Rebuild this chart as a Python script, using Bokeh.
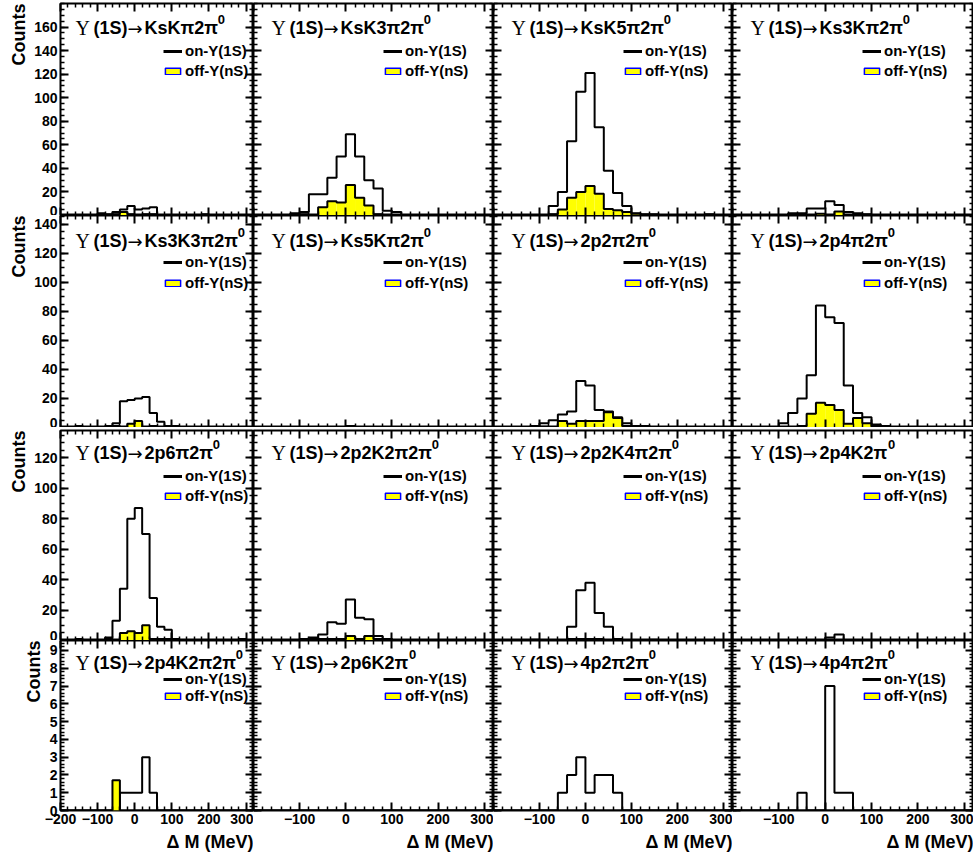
import math
from bokeh.plotting import figure
from bokeh.models import Range1d, LinearAxis, FixedTicker, Label, Legend, LegendItem, Title
from bokeh.layouts import column, row
from bokeh.embed import file_html
from bokeh.resources import INLINE

# ---------------- data (20 MeV bins from -200 to 320 MeV) ----------------
BIN_EDGES = [-200, -180, -160, -140, -120, -100, -80, -60, -40, -20, 0, 20, 40,
             60, 80, 100, 120, 140, 160, 180, 200, 220, 240, 260, 280, 300, 320]

# decay-mode part of each panel title ("Υ(1S)→" + mode + superscript 0)
MODES = [
    "KsKπ2π", "KsK3π2π", "KsK5π2π", "Ks3Kπ2π",
    "Ks3K3π2π", "Ks5Kπ2π", "2p2π2π", "2p4π2π",
    "2p6π2π", "2p2K2π2π", "2p2K4π2π", "2p4K2π",
    "2p4K2π2π", "2p6K2π", "4p2π2π", "4p4π2π",
]
LEGEND_ON = "on-Υ(1S)"
LEGEND_OFF = "off-Υ(nS)"
X_TITLE = "Δ M (MeV)"
Y_TITLE = "Counts"

#                     -200 -180 -160 -140 -120 -100 -80 -60 -40 -20  0  20  40  60  80 100 120 140 160 180 200 220 240 260 280 300
on_KsKpi2pi0      = [0, 0, 0, 0, 0, 2, 1, 3, 5, 8, 5, 6, 7, 0, 0, 0, 0, 0, 0, 0, 0, 0, 0, 0, 0, 0]
off_KsKpi2pi0     = [0, 0, 0, 0, 0, 0, 0, 1, 3, 1, 0, 1, 1, 0, 0, 0, 0, 0, 0, 1, 0, 0, 0, 0, 0, 0]
on_KsK3pi2pi0     = [0, 0, 0, 0, 2, 3, 18, 18, 32, 50, 69, 50, 30, 23, 4, 3, 0, 0, 0, 0, 0, 0, 0, 0, 0, 0]
off_KsK3pi2pi0    = [0, 0, 0, 0, 0, 1, 0, 7, 12, 11, 26, 15, 8.5, 1, 0, 0, 0, 0, 0, 0, 0, 0, 0, 0, 0, 0]
on_KsK5pi2pi0     = [0, 0, 0, 0, 0, 0, 8, 20, 63, 105, 121, 75, 38, 19, 8, 2, 1, 1, 0, 0, 0, 0, 0, 1, 0, 0]
off_KsK5pi2pi0    = [0, 0, 0, 0, 0, 0, 1, 5, 15, 20, 25, 18.5, 5.5, 4.5, 3, 1.5, 0, 0, 0, 0, 0, 0, 0, 0, 0, 0]
on_Ks3Kpi2pi0     = [0, 0, 0, 0, 0, 0, 2, 2, 6, 6, 12, 9, 3, 2, 1, 0, 0, 0, 0, 0, 0, 0, 0, 0, 0, 0]
off_Ks3Kpi2pi0    = [0, 0, 0, 0, 0, 0, 0, 0.5, 0.5, 1.5, 0.5, 3.5, 0.5, 0, 0, 0, 0, 0, 0, 0, 0, 0, 0, 0, 0, 0]
on_Ks3K3pi2pi0    = [0, 0, 1, 0, 0, 0, 1, 3, 18, 19, 20, 21, 10, 4, 1, 1, 0, 0, 0, 0, 0, 0, 0, 0, 0, 0]
off_Ks3K3pi2pi0   = [0, 0, 0, 0, 0, 0, 0, 1, 0, 2.5, 4.5, 0, 1, 0, 0, 1, 0, 0, 0, 0, 0, 0, 0, 0, 0, 0]
on_Ks5Kpi2pi0     = [0, 0, 0, 0, 0, 0, 0, 0, 0, 0, 1, 0, 0, 0, 0, 0, 0, 0, 0, 0, 0, 0, 0, 0, 0, 0]
off_Ks5Kpi2pi0    = [0, 0, 0, 0, 0, 0, 0, 0, 0, 0, 0, 0, 0, 0, 0, 0, 0, 0, 0, 0, 0, 0, 0, 0, 0, 0]
on_2p2pi2pi0      = [0, 0, 0, 0, 1, 3, 5, 9, 11, 32, 29, 12, 11, 7, 3, 1, 1, 0, 0, 0, 0, 0, 0, 0, 0, 0]
off_2p2pi2pi0     = [0, 0, 0, 0, 0, 0.5, 0, 4.5, 2.5, 4.5, 4.5, 4.5, 10.5, 6.5, 1, 1, 0.5, 0, 0, 0, 0, 0, 0, 0, 0, 0]
on_2p4pi2pi0      = [0, 0, 0, 0, 0, 3, 10, 20, 36, 84, 76, 72, 29, 10, 7, 2, 1, 0, 0, 0, 0, 0, 0, 0, 0, 0]
off_2p4pi2pi0     = [0, 0, 0, 0, 0, 0, 0, 1, 9.5, 17, 15.5, 12, 2.5, 6.5, 3, 1, 0, 0, 0, 0, 0, 0, 0, 0, 0, 0]
on_2p6pi2pi0      = [0, 0, 1, 0, 0, 0, 2, 13, 34, 80, 87, 70, 28, 9, 7, 1, 0, 0, 0, 0, 0, 0, 0, 0, 1, 0]
off_2p6pi2pi0     = [0, 0, 0, 0, 0, 0, 1, 0, 5, 6, 5, 10, 1, 1, 1, 0, 0, 0, 0, 0, 0, 0, 0, 0, 0, 0]
on_2p2K2pi2pi0    = [0, 0, 0, 0, 0, 1, 2, 4, 12, 11, 27, 15, 14, 3, 1, 0, 0, 0, 0, 0, 0, 0, 0, 0, 0, 0]
off_2p2K2pi2pi0   = [0, 0, 0, 0, 0, 0, 1, 1, 1, 1, 3, 1, 3, 1, 1, 0, 0, 0, 0, 0, 0, 0, 0, 0, 0, 0]
on_2p2K4pi2pi0    = [0, 0, 0, 0, 0, 0, 0, 0, 9, 33, 38, 18, 9, 1, 0, 0, 0, 0, 0, 0, 0, 0, 0, 0, 0, 0]
off_2p2K4pi2pi0   = [0, 0, 0, 0, 0.5, 0, 0, 0, 1, 1, 1, 1, 0, 0, 0, 0, 0, 0.5, 0, 0, 0, 0, 0, 0, 0, 0]
on_2p4K2pi0       = [0, 0, 0, 0, 0, 0, 0, 0, 0, 0, 2, 4, 0, 0, 0, 0, 0, 0, 0, 0, 0, 0, 0, 0, 0, 0]
off_2p4K2pi0      = [0, 0, 0, 0, 0, 0, 0, 0, 0, 0, 0, 0, 0, 0, 0, 0, 0, 0, 0, 0, 0, 0, 0, 0, 0, 0]
on_2p4K2pi2pi0    = [0, 0, 0, 0, 0, 0, 0, 0, 1, 1, 1, 3, 1, 0, 0, 0, 0, 0, 0, 0, 0, 0, 0, 0, 0, 0]
off_2p4K2pi2pi0   = [0, 0, 0, 0, 0, 0, 0, 1.7, 0, 0, 0, 0, 0, 0, 0, 0, 0, 0, 0, 0, 0, 0, 0, 0, 0, 0]
on_2p6K2pi0       = [0, 0, 0, 0, 0, 0, 0, 0, 0, 0, 0, 0, 0, 0, 0, 0, 0, 0, 0, 0, 0, 0, 0, 0, 0, 0]
off_2p6K2pi0      = [0, 0, 0, 0, 0, 0, 0, 0, 0, 0, 0, 0, 0, 0, 0, 0, 0, 0, 0, 0, 0, 0, 0, 0, 0, 0]
on_4p2pi2pi0      = [0, 0, 0, 0, 0, 0, 0, 1, 2, 3, 1, 2, 2, 1, 0, 0, 0, 0, 0, 0, 0, 0, 0, 0, 0, 0]
off_4p2pi2pi0     = [0, 0, 0, 0, 0, 0, 0, 0, 0, 0, 0, 0, 0, 0, 0, 0, 0, 0, 0, 0, 0, 0, 0, 0, 0, 0]
on_4p4pi2pi0      = [0, 0, 0, 0, 0, 0, 0, 1, 0, 0, 7, 1, 1, 0, 0, 0, 0, 0, 0, 0, 0, 0, 0, 0, 0, 0]
off_4p4pi2pi0     = [0, 0, 0, 0, 0, 0, 0, 0, 0, 0, 0, 0, 0, 0, 0, 0, 0, 0, 0, 0, 0, 0, 0, 0, 0, 0]

ON_SERIES = [on_KsKpi2pi0, on_KsK3pi2pi0, on_KsK5pi2pi0, on_Ks3Kpi2pi0,
             on_Ks3K3pi2pi0, on_Ks5Kpi2pi0, on_2p2pi2pi0, on_2p4pi2pi0,
             on_2p6pi2pi0, on_2p2K2pi2pi0, on_2p2K4pi2pi0, on_2p4K2pi0,
             on_2p4K2pi2pi0, on_2p6K2pi0, on_4p2pi2pi0, on_4p4pi2pi0]
OFF_SERIES = [off_KsKpi2pi0, off_KsK3pi2pi0, off_KsK5pi2pi0, off_Ks3Kpi2pi0,
              off_Ks3K3pi2pi0, off_Ks5Kpi2pi0, off_2p2pi2pi0, off_2p4pi2pi0,
              off_2p6pi2pi0, off_2p2K2pi2pi0, off_2p2K4pi2pi0, off_2p4K2pi0,
              off_2p4K2pi2pi0, off_2p6K2pi0, off_4p2pi2pi0, off_4p4pi2pi0]

X_RANGE = (-200, 320)
X_MAJOR = [-200, -100, 0, 100, 200, 300]
X_MINOR = [-180, -160, -140, -120, -80, -60, -40, -20, 20, 40, 60, 80,
           120, 140, 160, 180, 220, 240, 260, 280, 320]
Y_MAX = [180, 146, 138, 9.56]
Y_MAJOR = [
    [0, 20, 40, 60, 80, 100, 120, 140, 160],
    [0, 20, 40, 60, 80, 100, 120, 140],
    [0, 20, 40, 60, 80, 100, 120],
    [0, 1, 2, 3, 4, 5, 6, 7, 8, 9],
]
Y_MINOR_STEP = [5, 5, 5, 0.2]

# ---------------- layout / style ----------------
FONT = "Liberation Sans"
SERIF = "Liberation Serif"
FRAME_W = [193, 240, 239, 241]
FRAME_H = [212, 212, 210, 170]
TOP_BORDER = [3, 0, 3, 0]
LEFT_BORDER = 60
BOTTOM_BORDER = 50
TITLE_DX = [15, 18, 18, 18]
TITLE_DY = [24, 25, 22, 22]
LEG_X = [103, 130, 130, 130]
LEG_C1 = [47, 47, 45, 38]
LEG_SP = [3, 4, 3, 0]
ITEM_H = 17
TITLE_SIZE = 18

# approximate advance widths (em) of a bold Helvetica-like face, for placing title pieces
_W = {"K": 0.722, "s": 0.556, "p": 0.611, "π": 0.70, "(": 0.333, ")": 0.333,
      "S": 0.667, "1": 0.556}


def text_w(s, size):
    return sum(_W.get(ch, 0.556) for ch in s) * size


def minor_list(r):
    step = Y_MINOR_STEP[r]
    n = int(round(Y_MAX[r] / step))
    return [round(i * step, 4) for i in range(n + 1)]


def style_axis(ax, ticker, show):
    ax.ticker = ticker
    ax.axis_line_color = None
    ax.major_tick_in = 8
    ax.major_tick_out = 0
    ax.minor_tick_in = 4
    ax.minor_tick_out = 0
    ax.major_tick_line_width = 2
    ax.minor_tick_line_width = 1.5
    ax.major_tick_line_color = "black"
    ax.minor_tick_line_color = "black"
    ax.major_label_text_font = FONT
    ax.major_label_text_font_style = "bold"
    ax.major_label_text_font_size = "14px"
    if show:
        ax.major_label_text_color = "black"
        ax.major_label_standoff = 3
    else:
        ax.major_label_text_color = None   # no labels, no space taken
        ax.major_label_standoff = 0


def add_text(p, r, dx, dy, text, font, style, size):
    p.add_layout(Label(x=X_RANGE[0], y=Y_MAX[r], x_offset=dx, y_offset=-dy,
                       text=text, text_font=font, text_font_style=style,
                       text_font_size="%dpx" % size, text_align="left",
                       text_baseline="middle", text_color="black"))


def make_panel(r, c):
    k = 4 * r + c
    on = ON_SERIES[k]
    off = OFF_SERIES[k]
    fw, fh = FRAME_W[c], FRAME_H[r]
    bl = LEFT_BORDER if c == 0 else 0
    bb = BOTTOM_BORDER if r == 3 else 0
    bt = TOP_BORDER[r]
    p = figure(width=fw + bl, height=fh + bb + bt,
               x_range=Range1d(*X_RANGE), y_range=Range1d(0, Y_MAX[r]),
               x_axis_type=None, y_axis_type=None,
               output_backend="svg", toolbar_location=None,
               min_border_left=bl, min_border_right=0,
               min_border_top=bt, min_border_bottom=bb)
    p.outline_line_color = "black"
    p.outline_line_width = 2
    p.background_fill_color = "white"
    p.border_fill_color = "white"

    for loc in ["below", "above"]:
        ax = LinearAxis()
        show = (loc == "below" and r == 3)
        style_axis(ax, FixedTicker(ticks=X_MAJOR, minor_ticks=X_MINOR), show=show)
        if show and c > 0:
            ax.major_label_overrides = {-200: ""}
        p.add_layout(ax, loc)
    for loc in ["left", "right"]:
        ax = LinearAxis()
        style_axis(ax, FixedTicker(ticks=Y_MAJOR[r], minor_ticks=minor_list(r)),
                   show=(loc == "left" and c == 0))
        p.add_layout(ax, loc)

    # on-resonance histogram (outline)
    p.step(x=BIN_EDGES, y=on + [0], mode="after", line_color="black", line_width=2)
    # off-resonance histogram (yellow filled)
    p.quad(left=BIN_EDGES[:-1], right=BIN_EDGES[1:], bottom=0, top=off,
           fill_color="#ffff00", line_color=None)
    p.step(x=BIN_EDGES, y=off + [0], mode="after", line_color="black", line_width=2)

    # title, built from pieces: Υ (serif) (1S) → mode, superscript 0
    dx, dy = TITLE_DX[c], TITLE_DY[r]
    add_text(p, r, dx, dy, "Υ", SERIF, "normal", 20)
    x1 = dx + 18
    add_text(p, r, x1, dy, "(1S)", FONT, "bold", TITLE_SIZE)
    x2 = x1 + text_w("(1S)", TITLE_SIZE)
    add_text(p, r, x2, dy + 1, "→", "DejaVu Sans", "normal", 18)
    x3 = x2 + 17
    add_text(p, r, x3, dy, MODES[k], FONT, "bold", TITLE_SIZE)
    x4 = x3 + text_w(MODES[k], TITLE_SIZE) + 2
    add_text(p, r, x4, dy - 8, "0", FONT, "bold", 13)

    # legend (samples from renderers that lie outside the visible range)
    leg_line = p.line(x=[-1000, -990], y=[-100, -100], line_color="black", line_width=3)
    leg_box = p.quad(left=[-1000], right=[-990], top=[-100], bottom=[-110],
                     fill_color="#ffff00", line_color="#0000ff", line_width=1.5)
    leg_h = 2 * ITEM_H + LEG_SP[r]
    top = LEG_C1[r] - ITEM_H / 2.0
    legend = Legend(items=[LegendItem(label=LEGEND_ON, renderers=[leg_line]),
                           LegendItem(label=LEGEND_OFF, renderers=[leg_box])],
                    location=(LEG_X[c], int(round(fh - top - leg_h))),
                    glyph_width=19, glyph_height=8, label_height=ITEM_H,
                    label_standoff=3, spacing=LEG_SP[r], padding=0, margin=0,
                    border_line_color=None, background_fill_alpha=0,
                    label_text_font=FONT, label_text_font_style="bold",
                    label_text_font_size="15px", label_text_color="black")
    p.add_layout(legend)

    if c == 0:
        p.add_layout(Title(text=Y_TITLE, align="right", text_font=FONT,
                           text_font_style="bold", text_font_size="18px",
                           text_color="black", standoff=5, offset=0), "left")
    if r == 3:
        p.add_layout(Title(text=X_TITLE, align="right", text_font=FONT,
                           text_font_style="bold", text_font_size="18px",
                           text_color="black", standoff=7, offset=0), "below")
    return p


rows = []
for r in range(4):
    rows.append(row(*[make_panel(r, c) for c in range(4)], spacing=0))
layout = column(*rows, spacing=0)

open("out.html", "w").write(file_html(layout, INLINE))
